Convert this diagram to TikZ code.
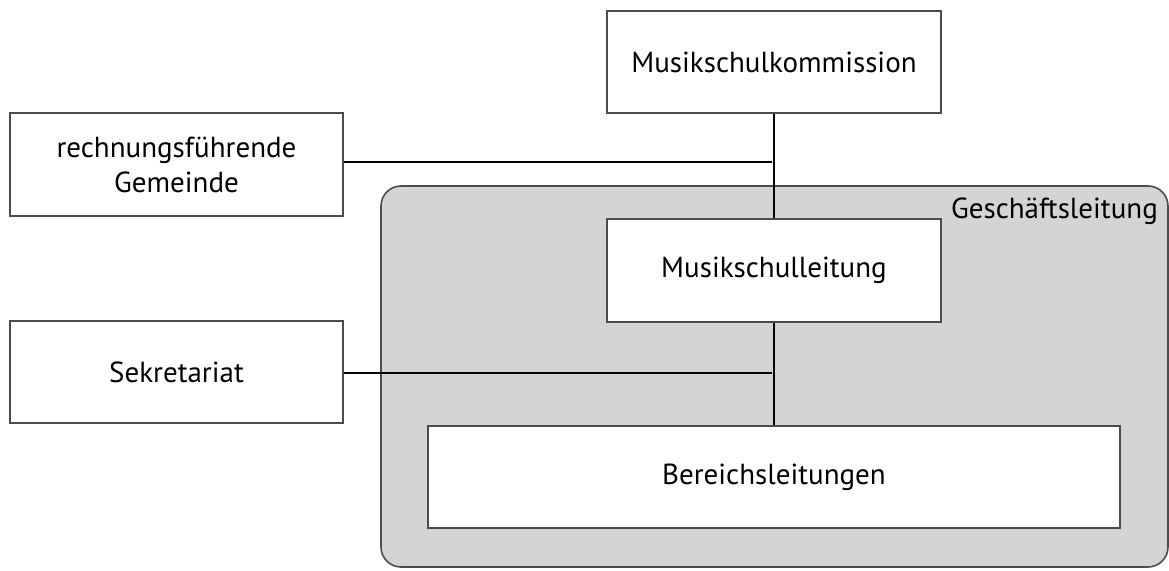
\documentclass[tikz,border=0pt]{standalone}
\usepackage{fontspec}
\setmainfont{PT Sans}
\begin{document}
\begin{tikzpicture}[x=1pt,y=1pt,
  box/.style={draw=black!70, line width=1.6pt, fill=white, inner sep=0pt, align=center,
    font=\fontsize{29}{35}\selectfont},
  conn/.style={draw=black, line width=2.8pt}]
\useasboundingbox (0,0) rectangle (1169,570);
% gray group
\draw[draw=black!70, line width=1.6pt, fill=black!17, rounded corners=20pt]
  (381,{570-567}) rectangle (1168,{570-186});
\node[anchor=north east, inner sep=0pt, font=\fontsize{29}{33}\selectfont] (gl) at (1158,{570-198}) {Geschäftsleitung};
% nodes
\node[box, minimum width=334pt, minimum height=102pt] (kom) at (774,{570-62}) {Musikschulkommission};
\node[box, minimum width=333pt, minimum height=103pt] (gem) at (176.5,{570-164.5}) {rechnungsführende\\Gemeinde};
\node[box, minimum width=334pt, minimum height=103pt] (msl) at (774,{570-270.5}) {Musikschulleitung};
\node[box, minimum width=333pt, minimum height=102pt] (sek) at (176.5,{570-372}) {Sekretariat};
\node[box, minimum width=692pt, minimum height=102pt] (ber) at (774,{570-477}) {Bereichsleitungen};
% connectors
\coordinate (j1) at (772,{570-162});
\coordinate (j2) at (772,{570-373});
\draw[conn] (kom.south) -- (msl.north);
\draw[conn] (msl.south) -- (ber.north);
\draw[conn] (gem.east |- j1) -- (j1);
\draw[conn] (sek.east |- j2) -- (j2);
\end{tikzpicture}
\end{document}
